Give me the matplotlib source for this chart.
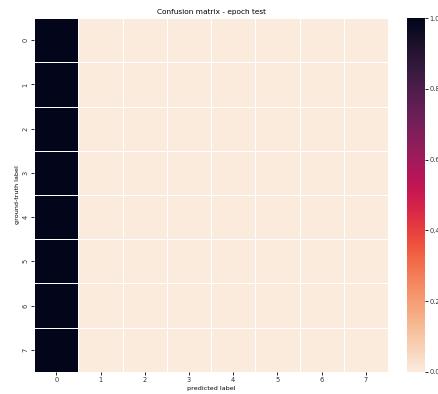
import numpy as np
import matplotlib
matplotlib.use('Agg')
import matplotlib.pyplot as plt
import seaborn as sns

labels = [str(i) for i in range(8)]
# every sample predicted as class 0
col0 = [1.0, 1.0, 1.0, 1.0, 1.0, 1.0, 1.0, 1.0]
other = [0.0, 0.0, 0.0, 0.0, 0.0, 0.0, 0.0]

cm = np.array([[c] + other for c in col0])

fig = plt.figure(figsize=(4.38, 3.94), dpi=100)
ax = fig.add_axes([0.078, 0.056, 0.808, 0.898])
cax = fig.add_axes([0.929, 0.056, 0.042, 0.898])

sns.heatmap(cm, ax=ax, cbar_ax=cax, cmap='rocket_r', vmin=0.0, vmax=1.0,
            linewidths=0.5, linecolor='white',
            xticklabels=labels, yticklabels=labels)

ax.set_title('Confusion matrix - epoch test', fontsize=5.3, pad=3)
ax.set_xlabel('predicted label', fontsize=4.6, labelpad=2)
ax.set_ylabel('ground-truth label', fontsize=4.6, labelpad=2)
ax.tick_params(axis='both', labelsize=4.8, length=2, width=0.6, pad=2,
               labelcolor='#333333')
plt.setp(ax.get_yticklabels(), rotation=90, va='center')
plt.setp(ax.get_xticklabels(), rotation=0)

cax.tick_params(labelsize=4.8, length=2, width=0.6, pad=1, labelcolor='#333333')
cax.set_yticks([0.0, 0.2, 0.4, 0.6, 0.8, 1.0])

fig.savefig('out.png', dpi=100)
